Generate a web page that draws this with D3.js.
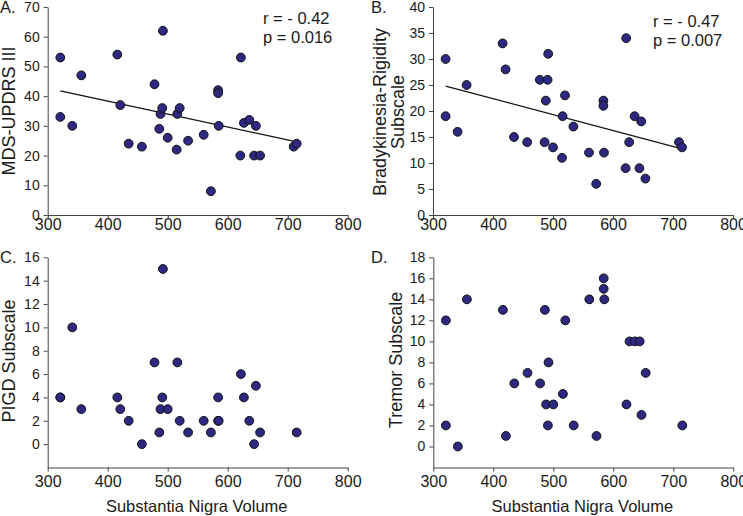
<!DOCTYPE html>
<html><head><meta charset="utf-8">
<script src="https://cdn.jsdelivr.net/npm/d3@7"></script>
<style>
body{margin:0;background:#fff}
svg{display:block}
text{font-family:"Liberation Sans",Arial,sans-serif;fill:#1a1a1a}
</style>
</head><body>
<svg id="chart" width="743" height="516"></svg>
<script>
// Substantia nigra volume per subject (shared x values)
const volume = [321, 321, 341, 356, 416, 421, 435, 457, 478, 486, 488, 491, 492, 500, 515, 516, 520, 534, 560, 572, 584, 584, 585, 621, 622, 627, 636, 644, 647, 654, 710, 715];
// Panel A: MDS-UPDRS III
const mdsUpdrs = [53, 33, 30, 47, 54, 37, 24, 23, 44, 29, 34, 36, 62, 26, 22, 34, 36, 25, 27, 8, 42, 41, 30, 20, 53, 31, 32, 20, 30, 20, 23, 24];
// Panel B: Bradykinesia-Rigidity subscale
const bradyRigidity = [30, 19, 16, 25, 33, 28, 15, 14, 26, 14, 22, 26, 31, 13, 11, 19, 23, 17, 12, 6, 22, 21, 12, 9, 34, 14, 19, 9, 18, 7, 14, 13];
// Panel C: PIGD subscale (null = not plotted / hidden)
const pigd = [4, 4, 10, 3, 4, 3, 2, 0, 7, 1, 3, 4, 15, 3, null, 7, 2, 1, 2, 1, 4, 2, 2, null, 6, 4, 2, 0, 5, 1, null, 1];
// Panel D: Tremor subscale
const tremor = [12, 2, 0, 14, 13, 1, 6, 7, 6, 13, 4, 2, 8, 4, null, 5, 12, 2, 14, 1, 16, 15, 14, null, 4, 10, 10, 10, 3, 7, null, 2];

const xTicks = [300, 400, 500, 600, 700, 800];
const ticksA = [0, 10, 20, 30, 40, 50, 60, 70];
const ticksB = [0, 5, 10, 15, 20, 25, 30, 35, 40];
const ticksC = [0, 2, 4, 6, 8, 10, 12, 14, 16];
const ticksD = [0, 2, 4, 6, 8, 10, 12, 14, 16, 18];
const statsA = ["r = - 0.42", "p = 0.016"];
const statsB = ["r = - 0.47", "p = 0.007"];

const svg = d3.select("#chart");
svg.append("rect").attr("width", 743).attr("height", 516).attr("fill", "#fff");

const panels = [
  {letter: "A.", ys: mdsUpdrs, yDomain: [0, 70], yTicks: ticksA, x0: 47.7, x1: 347.7, yb: 215, yt: 7,
   title: ["MDS-UPDRS III"], titleX: [15], titleY: 111, letterX: 0, letterY: 12.5,
   stats: statsA, statsX: 263, statsY: [24, 42.7], fit: true, xLabTop: 4, xTitle: false},
  {letter: "B.", ys: bradyRigidity, yDomain: [0, 40], yTicks: ticksB, x0: 433, x1: 733, yb: 215, yt: 7,
   title: ["Bradykinesia-Rigidity", "Subscale"], titleX: [386, 404], titleY: 112, letterX: 371, letterY: 12.5,
   stats: statsB, statsX: 653, statsY: [27, 45.5], fit: true, xLabTop: 4, xTitle: false},
  {letter: "C.", ys: pigd, yDomain: [-2, 16], yTicks: ticksC, x0: 47.7, x1: 347.7, yb: 467.5, yt: 257.3,
   title: ["PIGD Subscale"], titleX: [15], titleY: 361, letterX: 0, letterY: 262.7,
   stats: null, fit: false, xLabTop: 8, xTitle: true},
  {letter: "D.", ys: tremor, yDomain: [-2, 18], yTicks: ticksD, x0: 433.3, x1: 733.3, yb: 467.5, yt: 257.3,
   title: ["Tremor Subscale"], titleX: [402], titleY: 360, letterX: 371, letterY: 262.7,
   stats: null, fit: false, xLabTop: 8, xTitle: true}
];

panels.forEach(p => {
  const x = d3.scaleLinear().domain([300, 800]).range([p.x0, p.x1]);
  const y = d3.scaleLinear().domain(p.yDomain).range([p.yb, p.yt]);
  const g = svg.append("g");

  const xa = g.append("g").attr("transform", `translate(0,${p.yb})`)
    .call(d3.axisBottom(x).tickValues(xTicks).tickSize(4).tickSizeOuter(0));
  xa.attr("font-family", null).attr("font-size", null);
  xa.selectAll("text").attr("font-size", 16).attr("y", p.xLabTop).attr("dy", "0.71em").attr("fill", "#1a1a1a");

  const ya = g.append("g").attr("transform", `translate(${p.x0},0)`)
    .call(d3.axisLeft(y).tickValues(p.yTicks).tickSize(4).tickPadding(4).tickSizeOuter(0));
  ya.attr("font-family", null).attr("font-size", null);
  ya.selectAll("text").attr("font-size", 14).attr("fill", "#1a1a1a");

  g.selectAll(".domain, .tick line").attr("stroke", "#444").attr("stroke-width", 1);

  // regression line computed from the data
  const pts = volume.map((v, i) => [v, p.ys[i]]).filter(d => d[1] !== null);
  if (p.fit) {
    const mx = d3.mean(pts, d => d[0]), my = d3.mean(pts, d => d[1]);
    const sxy = d3.sum(pts, d => (d[0] - mx) * (d[1] - my));
    const sxx = d3.sum(pts, d => (d[0] - mx) ** 2);
    const b = sxy / sxx, a = my - b * mx;
    const [lo, hi] = d3.extent(pts, d => d[0]);
    g.append("line").attr("x1", x(lo)).attr("y1", y(a + b * lo))
      .attr("x2", x(hi)).attr("y2", y(a + b * hi))
      .attr("stroke", "#111").attr("stroke-width", 1.2);
  }

  g.selectAll("circle.pt").data(pts).join("circle").attr("class", "pt")
    .attr("cx", d => x(d[0])).attr("cy", d => y(d[1])).attr("r", 4.4)
    .attr("fill", "#2e2880").attr("stroke", "#111").attr("stroke-width", 1);

  // panel letter
  g.append("text").attr("x", p.letterX).attr("y", p.letterY).attr("font-size", 16.5).text(p.letter);

  // y title
  p.title.forEach((t, i) => {
    g.append("text").attr("transform", `translate(${p.titleX[i]},${p.titleY}) rotate(-90)`)
      .attr("text-anchor", "middle").attr("font-size", 18).text(t);
  });

  if (p.xTitle) {
    g.append("text").attr("x", (p.x0 + p.x1) / 2 - 1).attr("y", 512)
      .attr("text-anchor", "middle").attr("font-size", 16.5).text("Substantia Nigra Volume");
  }

  if (p.stats) {
    p.stats.forEach((s, i) => {
      g.append("text").attr("x", p.statsX).attr("y", p.statsY[i]).attr("font-size", 16.5).text(s);
    });
  }
});
</script>
</body></html>
